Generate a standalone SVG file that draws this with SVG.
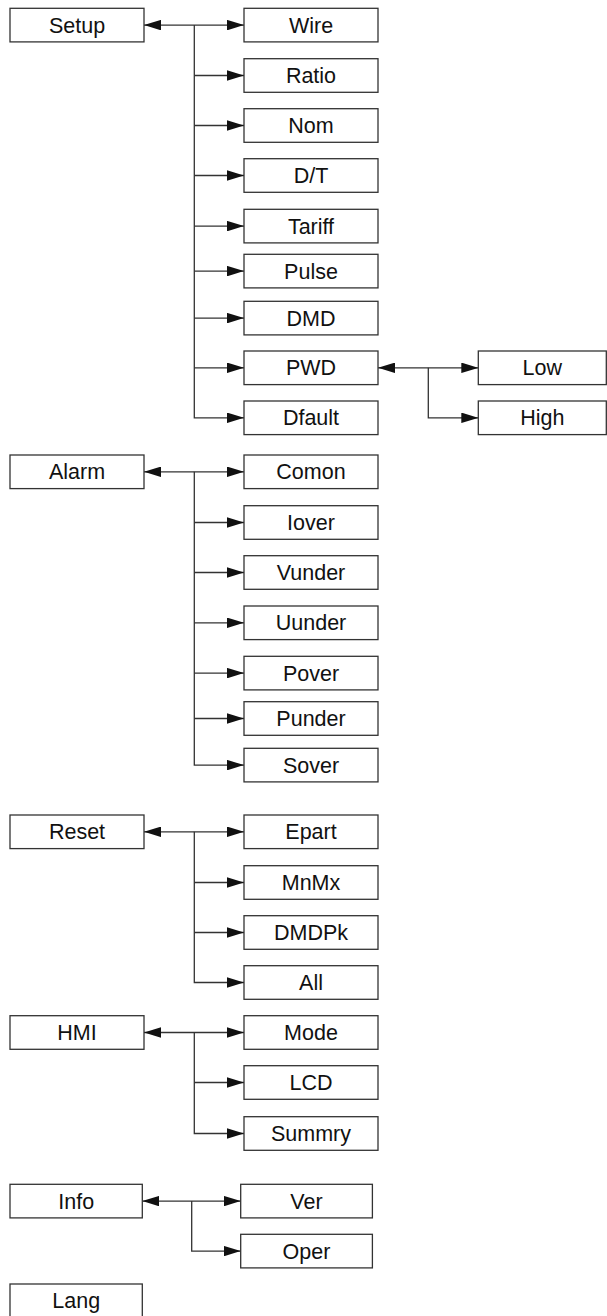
<svg xmlns="http://www.w3.org/2000/svg" width="607" height="1316" viewBox="0 0 607 1316">
<style>
.b{fill:#fff;stroke:#333;stroke-width:1.3}
.t{font-family:"Liberation Sans",Arial,sans-serif;font-size:21.5px;fill:#111;text-anchor:middle}
.c{fill:none;stroke:#333;stroke-width:1.3}
</style>
<defs>
<marker id="a" markerUnits="userSpaceOnUse" markerWidth="17" markerHeight="10.5" refX="17" refY="5.25" orient="auto-start-reverse" viewBox="0 0 17 10.5"><path d="M0,0 L17,5.25 L0,10.5 z" fill="#111"/></marker>
</defs>
<g id="connectors">
<path class="c" d="M144,25.1 H244" marker-start="url(#a)" marker-end="url(#a)"/>
<path class="c" d="M194.3,25.1 V417.8 H244" marker-end="url(#a)"/>
<path class="c" d="M194.3,75.5 H244" marker-end="url(#a)"/>
<path class="c" d="M194.3,125.5 H244" marker-end="url(#a)"/>
<path class="c" d="M194.3,175.5 H244" marker-end="url(#a)"/>
<path class="c" d="M194.3,226.1 H244" marker-end="url(#a)"/>
<path class="c" d="M194.3,271.1 H244" marker-end="url(#a)"/>
<path class="c" d="M194.3,318.1 H244" marker-end="url(#a)"/>
<path class="c" d="M194.3,367.8 H244" marker-end="url(#a)"/>
<path class="c" d="M378,367.8 H478.3" marker-start="url(#a)" marker-end="url(#a)"/>
<path class="c" d="M428.3,367.8 V417.8 H478.3" marker-end="url(#a)"/>
<path class="c" d="M144,471.8 H244" marker-start="url(#a)" marker-end="url(#a)"/>
<path class="c" d="M194.3,471.8 V765.1 H244" marker-end="url(#a)"/>
<path class="c" d="M194.3,522.5 H244" marker-end="url(#a)"/>
<path class="c" d="M194.3,572.5 H244" marker-end="url(#a)"/>
<path class="c" d="M194.3,622.8 H244" marker-end="url(#a)"/>
<path class="c" d="M194.3,673.1 H244" marker-end="url(#a)"/>
<path class="c" d="M194.3,718.5 H244" marker-end="url(#a)"/>
<path class="c" d="M144,831.8 H244" marker-start="url(#a)" marker-end="url(#a)"/>
<path class="c" d="M194.3,831.8 V982.5 H244" marker-end="url(#a)"/>
<path class="c" d="M194.3,882.5 H244" marker-end="url(#a)"/>
<path class="c" d="M194.3,932.5 H244" marker-end="url(#a)"/>
<path class="c" d="M144,1032.5 H244" marker-start="url(#a)" marker-end="url(#a)"/>
<path class="c" d="M194.3,1032.5 V1133.5 H244" marker-end="url(#a)"/>
<path class="c" d="M194.3,1082.5 H244" marker-end="url(#a)"/>
<path class="c" d="M142.3,1201.1 H240.7" marker-start="url(#a)" marker-end="url(#a)"/>
<path class="c" d="M191.7,1201.1 V1251.1 H240.7" marker-end="url(#a)"/>
</g>
<g id="setup"><rect class="b" x="10" y="8.3" width="134" height="33.6"/><text class="t" x="77" y="32.6">Setup</text></g>
<g id="wire"><rect class="b" x="244" y="8.3" width="134" height="33.6"/><text class="t" x="311" y="32.6">Wire</text></g>
<g id="ratio"><rect class="b" x="244" y="58.7" width="134" height="33.6"/><text class="t" x="311" y="83">Ratio</text></g>
<g id="nom"><rect class="b" x="244" y="108.7" width="134" height="33.6"/><text class="t" x="311" y="133">Nom</text></g>
<g id="dt"><rect class="b" x="244" y="158.7" width="134" height="33.6"/><text class="t" x="311" y="183">D/T</text></g>
<g id="tariff"><rect class="b" x="244" y="209.3" width="134" height="33.6"/><text class="t" x="311" y="233.6">Tariff</text></g>
<g id="pulse"><rect class="b" x="244" y="254.3" width="134" height="33.6"/><text class="t" x="311" y="278.6">Pulse</text></g>
<g id="dmd"><rect class="b" x="244" y="301.3" width="134" height="33.6"/><text class="t" x="311" y="325.6">DMD</text></g>
<g id="pwd"><rect class="b" x="244" y="351" width="134" height="33.6"/><text class="t" x="311" y="375.3">PWD</text></g>
<g id="dfault"><rect class="b" x="244" y="401" width="134" height="33.6"/><text class="t" x="311" y="425.3">Dfault</text></g>
<g id="low"><rect class="b" x="478.3" y="351" width="128" height="33.6"/><text class="t" x="542.3" y="375.3">Low</text></g>
<g id="high"><rect class="b" x="478.3" y="401" width="128" height="33.6"/><text class="t" x="542.3" y="425.3">High</text></g>
<g id="alarm"><rect class="b" x="10" y="455" width="134" height="33.6"/><text class="t" x="77" y="479.3">Alarm</text></g>
<g id="comon"><rect class="b" x="244" y="455" width="134" height="33.6"/><text class="t" x="311" y="479.3">Comon</text></g>
<g id="iover"><rect class="b" x="244" y="505.7" width="134" height="33.6"/><text class="t" x="311" y="530">Iover</text></g>
<g id="vunder"><rect class="b" x="244" y="555.7" width="134" height="33.6"/><text class="t" x="311" y="580">Vunder</text></g>
<g id="uunder"><rect class="b" x="244" y="606" width="134" height="33.6"/><text class="t" x="311" y="630.3">Uunder</text></g>
<g id="pover"><rect class="b" x="244" y="656.3" width="134" height="33.6"/><text class="t" x="311" y="680.6">Pover</text></g>
<g id="punder"><rect class="b" x="244" y="701.7" width="134" height="33.6"/><text class="t" x="311" y="726">Punder</text></g>
<g id="sover"><rect class="b" x="244" y="748.3" width="134" height="33.6"/><text class="t" x="311" y="772.6">Sover</text></g>
<g id="reset"><rect class="b" x="10" y="815" width="134" height="33.6"/><text class="t" x="77" y="839.3">Reset</text></g>
<g id="epart"><rect class="b" x="244" y="815" width="134" height="33.6"/><text class="t" x="311" y="839.3">Epart</text></g>
<g id="mnmx"><rect class="b" x="244" y="865.7" width="134" height="33.6"/><text class="t" x="311" y="890">MnMx</text></g>
<g id="dmdpk"><rect class="b" x="244" y="915.7" width="134" height="33.6"/><text class="t" x="311" y="940">DMDPk</text></g>
<g id="all"><rect class="b" x="244" y="965.7" width="134" height="33.6"/><text class="t" x="311" y="990">All</text></g>
<g id="hmi"><rect class="b" x="10" y="1015.7" width="134" height="33.6"/><text class="t" x="77" y="1040">HMI</text></g>
<g id="mode"><rect class="b" x="244" y="1015.7" width="134" height="33.6"/><text class="t" x="311" y="1040">Mode</text></g>
<g id="lcd"><rect class="b" x="244" y="1065.7" width="134" height="33.6"/><text class="t" x="311" y="1090">LCD</text></g>
<g id="summry"><rect class="b" x="244" y="1116.7" width="134" height="33.6"/><text class="t" x="311" y="1141">Summry</text></g>
<g id="info"><rect class="b" x="10" y="1184.3" width="132.3" height="33.6"/><text class="t" x="76.2" y="1208.6">Info</text></g>
<g id="ver"><rect class="b" x="240.7" y="1184.3" width="131.7" height="33.6"/><text class="t" x="306.5" y="1208.6">Ver</text></g>
<g id="oper"><rect class="b" x="240.7" y="1234.3" width="131.7" height="33.6"/><text class="t" x="306.5" y="1258.6">Oper</text></g>
<g id="lang"><rect class="b" x="10" y="1284" width="132.3" height="33.6"/><text class="t" x="76.2" y="1308.3">Lang</text></g>
</svg>
